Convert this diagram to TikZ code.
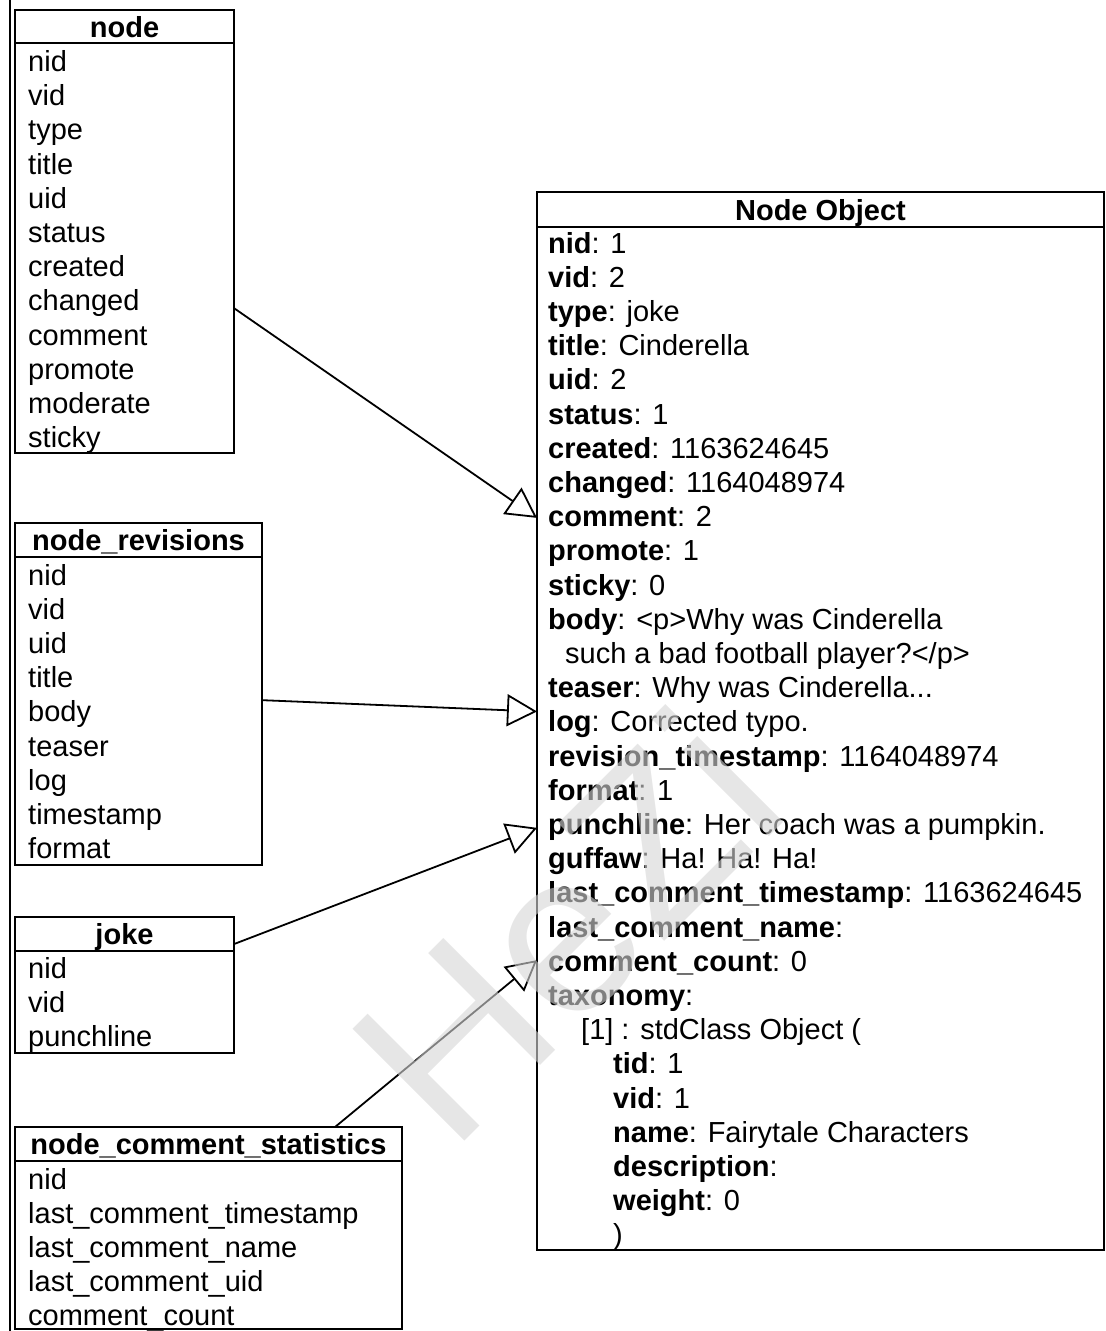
\documentclass[tikz,border=0pt]{standalone}
\usepackage{fontspec}
\setmainfont{Liberation Sans}
\usetikzlibrary{arrows.meta,calc}
\begin{document}
\begin{tikzpicture}[x=1pt,y=-1pt,
  tbl/.style={draw, line width=2.5pt, inner sep=0pt, outer sep=0pt, anchor=north west},
  sep/.style={line width=2.5pt},
  hdr/.style={font=\fontsize{29}{34}\selectfont\bfseries, anchor=base, inner sep=0pt},
  row/.style={font=\fontsize{29}{34}\selectfont, anchor=base west, inner sep=0pt},
  gen/.style={line width=1.8pt, -{Triangle[open, length=30pt, width=32pt]}},
  wmark/.style={font=\fontsize{230}{230}\selectfont, text=black!16, text opacity=0.6, rotate=45, inner sep=0pt}]
\useasboundingbox (0,0) rectangle (1106,1331);
% left rule
\draw[line width=2pt] (10,0) -- (10,1331);

% node table
\node[tbl, minimum width=219pt, minimum height=443pt] (tnode) at (15,10) {};
\draw[sep] ($(tnode.north west)+(0,33)$) -- ($(tnode.north east)+(0,33)$);
\node[hdr] (tnode-h) at ($(tnode.north)+(0,27.5)$) {node};
\foreach \t [count=\i from 0] in {nid,vid,type,title,uid,status,created,changed,comment,promote,moderate,sticky}
  \node[row] (tnode-\i) at ($(tnode.north west)+(13,61.5+\i*34.2)$) {\t};

% node_revisions table
\node[tbl, minimum width=247pt, minimum height=342pt] (trev) at (15,523) {};
\draw[sep] ($(trev.north west)+(0,34)$) -- ($(trev.north east)+(0,34)$);
\node[hdr] (trev-h) at ($(trev.north)+(0,27.5)$) {node\_revisions};
\foreach \t [count=\i from 0] in {nid,vid,uid,title,body,teaser,log,timestamp,format}
  \node[row] (trev-\i) at ($(trev.north west)+(13,62+\i*34.2)$) {\t};

% joke table
\node[tbl, minimum width=219pt, minimum height=136pt] (tjoke) at (15,917) {};
\draw[sep] ($(tjoke.north west)+(0,34)$) -- ($(tjoke.north east)+(0,34)$);
\node[hdr] (tjoke-h) at ($(tjoke.north)+(0,27.5)$) {joke};
\foreach \t [count=\i from 0] in {nid,vid,punchline}
  \node[row] (tjoke-\i) at ($(tjoke.north west)+(13,61.5+\i*34.2)$) {\t};

% node_comment_statistics table
\node[tbl, minimum width=387pt, minimum height=202pt] (tncs) at (15,1127) {};
\draw[sep] ($(tncs.north west)+(0,34)$) -- ($(tncs.north east)+(0,34)$);
\node[hdr] (tncs-h) at ($(tncs.north)+(0,27.5)$) {node\_comment\_statistics};
\foreach \t [count=\i from 0] in {nid,last\_comment\_timestamp,last\_comment\_name,last\_comment\_uid,comment\_count}
  \node[row] (tncs-\i) at ($(tncs.north west)+(13,62+\i*34.2)$) {\t};

% Node Object
\node[tbl, minimum width=567pt, minimum height=1058pt] (tobj) at (537,192) {};
\draw[sep] ($(tobj.north west)+(0,35)$) -- ($(tobj.north east)+(0,35)$);
\node[hdr] (tobj-h) at ($(tobj.north)+(0,28)$) {Node Object};
\node[row] (o0)  at (548,253.0) {\textbf{nid}: 1};
\node[row] (o1)  at (548,287.2) {\textbf{vid}: 2};
\node[row] (o2)  at (548,321.4) {\textbf{type}: joke};
\node[row] (o3)  at (548,355.6) {\textbf{title}: Cinderella};
\node[row] (o4)  at (548,389.8) {\textbf{uid}: 2};
\node[row] (o5)  at (548,424.0) {\textbf{status}: 1};
\node[row] (o6)  at (548,458.2) {\textbf{created}: 1163624645};
\node[row] (o7)  at (548,492.4) {\textbf{changed}: 1164048974};
\node[row] (o8)  at (548,526.6) {\textbf{comment}: 2};
\node[row] (o9)  at (548,560.8) {\textbf{promote}: 1};
\node[row] (o10) at (548,595.0) {\textbf{sticky}: 0};
\node[row] (o11) at (548,629.2) {\textbf{body}: <p>Why was Cinderella};
\node[row] (o12) at (565,663.4) {such a bad football player?</p>};
\node[row] (o13) at (548,697.6) {\textbf{teaser}: Why was Cinderella...};
\node[row] (o14) at (548,731.8) {\textbf{log}: Corrected typo.};
\node[row] (o15) at (548,766.0) {\textbf{revision\_timestamp}: 1164048974};
\node[row] (o16) at (548,800.2) {\textbf{format}: 1};
\node[row] (o17) at (548,834.4) {\textbf{punchline}: Her coach was a pumpkin.};
\node[row] (o18) at (548,868.6) {\textbf{guffaw}: Ha! Ha! Ha!};
\node[row] (o19) at (548,902.8) {\textbf{last\_comment\_timestamp}: 1163624645};
\node[row] (o20) at (548,937.0) {\textbf{last\_comment\_name}:};
\node[row] (o21) at (548,971.2) {\textbf{comment\_count}: 0};
\node[row] (o22) at (548,1005.4) {\textbf{taxonomy}:};
\node[row] (o23) at (581,1039.6) {[1] : stdClass Object (};
\node[row] (o24) at (613,1073.8) {\textbf{tid}: 1};
\node[row] (o25) at (613,1108.0) {\textbf{vid}: 1};
\node[row] (o26) at (613,1142.2) {\textbf{name}: Fairytale Characters};
\node[row] (o27) at (613,1176.4) {\textbf{description}:};
\node[row] (o28) at (613,1210.6) {\textbf{weight}: 0};
\node[row] (o29) at (613,1244.8) {)};

% generalization arrows
\draw[gen] ($(tnode.north east)!0.673!(tnode.south east)$) -- ($(tobj.north west)!0.308!(tobj.south west)$);
\draw[gen] ($(trev.north east)!0.518!(trev.south east)$) -- ($(tobj.north west)!0.491!(tobj.south west)$);
\draw[gen] ($(tjoke.north east)!0.199!(tjoke.south east)$) -- ($(tobj.north west)!0.601!(tobj.south west)$);
\draw[gen] ($(tncs.north west)!0.827!(tncs.north east)$) -- ($(tobj.north west)!0.726!(tobj.south west)$);

% watermark
\node[wmark] (wm) at (565,925) {HeZi};
\end{tikzpicture}
\end{document}
